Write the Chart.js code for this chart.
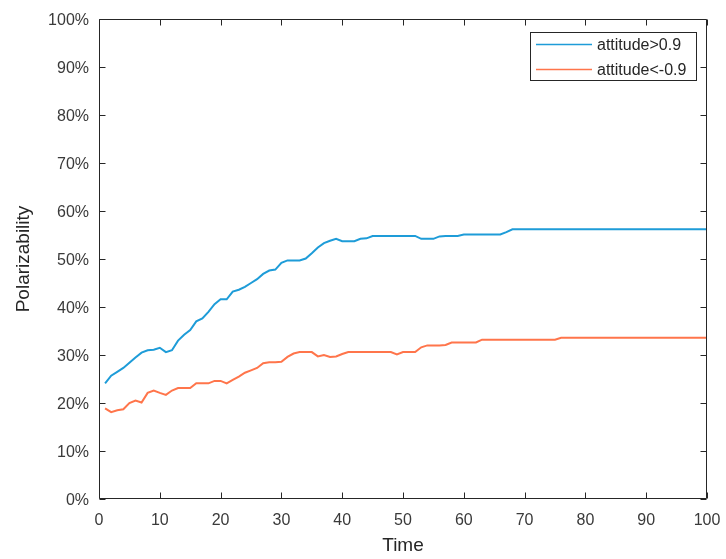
<!DOCTYPE html>
<html>
<head>
<meta charset="utf-8">
<script src="https://cdn.jsdelivr.net/npm/chart.js@4/dist/chart.umd.min.js"></script>
<style>
  html, body { margin: 0; padding: 0; background: #fff; }
  #wrap { width: 726px; height: 559px; }
</style>
</head>
<body>
<div id="wrap"><canvas id="polar" width="726" height="559"></canvas></div>
<script>
// time steps 1..100
const time = [1,2,3,4,5,6,7,8,9,10,11,12,13,14,15,16,17,18,19,20,
  21,22,23,24,25,26,27,28,29,30,31,32,33,34,35,36,37,38,39,40,
  41,42,43,44,45,46,47,48,49,50,51,52,53,54,55,56,57,58,59,60,
  61,62,63,64,65,66,67,68,69,70,71,72,73,74,75,76,77,78,79,80,
  81,82,83,84,85,86,87,88,89,90,91,92,93,94,95,96,97,98,99,100];

// polarizability (%)
const positive = [24.1,25.7,26.5,27.3,28.4,29.5,30.5,31.0,31.1,31.5,
  30.6,31.0,33.0,34.2,35.2,37.0,37.6,39.0,40.6,41.6,
  41.6,43.2,43.6,44.2,45.0,45.8,46.9,47.6,47.8,49.2,
  49.7,49.7,49.7,50.1,51.2,52.4,53.3,53.8,54.2,53.7,
  53.7,53.7,54.2,54.3,54.8,54.8,54.8,54.8,54.8,54.8,
  54.8,54.8,54.2,54.2,54.2,54.7,54.8,54.8,54.8,55.1,
  55.1,55.1,55.1,55.1,55.1,55.1,55.6,56.2,56.2,56.2,
  56.2,56.2,56.2,56.2,56.2,56.2,56.2,56.2,56.2,56.2,
  56.2,56.2,56.2,56.2,56.2,56.2,56.2,56.2,56.2,56.2,
  56.2,56.2,56.2,56.2,56.2,56.2,56.2,56.2,56.2,56.2];

const negative = [18.9,18.1,18.5,18.7,20.0,20.5,20.1,22.1,22.6,22.1,
  21.7,22.6,23.1,23.1,23.1,24.1,24.1,24.1,24.6,24.6,
  24.1,24.8,25.5,26.3,26.8,27.3,28.3,28.5,28.5,28.6,
  29.6,30.3,30.6,30.6,30.6,29.7,30.0,29.6,29.7,30.2,
  30.6,30.6,30.6,30.6,30.6,30.6,30.6,30.6,30.1,30.6,
  30.6,30.6,31.6,32.0,32.0,32.0,32.1,32.6,32.6,32.6,
  32.6,32.6,33.2,33.2,33.2,33.2,33.2,33.2,33.2,33.2,
  33.2,33.2,33.2,33.2,33.2,33.6,33.6,33.6,33.6,33.6,
  33.6,33.6,33.6,33.6,33.6,33.6,33.6,33.6,33.6,33.6,
  33.6,33.6,33.6,33.6,33.6,33.6,33.6,33.6,33.6,33.6];

const seriesNames = ['attitude>0.9', 'attitude<-0.9'];

const axisColor = '#262626';
const labelColor = '#3a3a3a';
const font = 'Liberation Sans, Arial, Helvetica, sans-serif';

// matlab style box with inward ticks + legend in the corner
const matlabBox = {
  id: 'matlabBox',
  afterDraw(chart) {
    const {ctx, chartArea: a, scales: {x, y}} = chart;
    const L = Math.round(a.left) + 0.5, R = Math.round(a.right) - 0.5;
    const T = Math.round(a.top) + 0.5, B = Math.round(a.bottom) - 0.5;
    ctx.save();
    ctx.strokeStyle = axisColor;
    ctx.lineWidth = 1;
    ctx.beginPath();
    ctx.rect(L, T, R - L, B - T);
    x.ticks.forEach(t => {
      const px = Math.round(x.getPixelForValue(t.value)) + 0.5;
      ctx.moveTo(px, B); ctx.lineTo(px, B - 6);
      ctx.moveTo(px, T); ctx.lineTo(px, T + 6);
    });
    y.ticks.forEach(t => {
      const py = Math.round(y.getPixelForValue(t.value)) + 0.5;
      ctx.moveTo(L, py); ctx.lineTo(L + 6, py);
      ctx.moveTo(R, py); ctx.lineTo(R - 6, py);
    });
    ctx.stroke();

    // legend
    const lx = 530.5, ly = 32.5, lw = 166, lh = 48;
    ctx.fillStyle = '#fff';
    ctx.fillRect(lx, ly, lw, lh);
    ctx.strokeRect(lx, ly, lw, lh);
    ctx.font = '16px ' + font;
    ctx.textBaseline = 'middle';
    chart.data.datasets.forEach((ds, i) => {
      const rowY = 44.5 + i * 25;
      ctx.strokeStyle = ds.borderColor;
      ctx.lineWidth = 1.5;
      ctx.beginPath();
      ctx.moveTo(536, rowY); ctx.lineTo(592, rowY);
      ctx.stroke();
      ctx.fillStyle = axisColor;
      ctx.fillText(ds.label, 597, rowY + 1);
    });
    ctx.restore();
  }
};

new Chart(document.getElementById('polar'), {
  type: 'line',
  data: {
    labels: time,
    datasets: [{
      label: seriesNames[0],
      data: positive,
      borderColor: 'rgb(30, 156, 216)',
      borderWidth: 2,
      pointRadius: 0,
      tension: 0
    }, {
      label: seriesNames[1],
      data: negative,
      borderColor: 'rgb(255, 117, 75)',
      borderWidth: 2,
      pointRadius: 0,
      tension: 0
    }]
  },
  options: {
    responsive: false,
    animation: false,
    devicePixelRatio: 1,
    layout: { padding: { left: 0, top: 19, right: 19, bottom: 0 } },
    plugins: { legend: { display: false }, tooltip: { enabled: false } },
    scales: {
      x: {
        type: 'linear',
        min: 0, max: 100,
        grid: { display: false, drawTicks: false },
        border: { display: false },
        ticks: { stepSize: 10, padding: 12, color: labelColor, font: { family: font, size: 16 }, maxRotation: 0 },
        title: { display: true, text: 'Time', color: axisColor, font: { family: font, size: 19 }, padding: { top: 0, bottom: 2 } },
        afterFit(s) { s.height = 60; s.paddingLeft = 0; s.paddingRight = 0; }
      },
      y: {
        min: 0, max: 100,
        grid: { display: false, drawTicks: false },
        border: { display: false },
        ticks: { stepSize: 10, padding: 10, labelOffset: 2, color: labelColor, font: { family: font, size: 16 }, callback: v => v + '%' },
        title: { display: true, text: 'Polarizability', color: axisColor, font: { family: font, size: 19 }, padding: { top: 12, bottom: 0 } },
        afterFit(s) { s.width = 99; s.paddingTop = 0; s.paddingBottom = 0; }
      }
    }
  },
  plugins: [matlabBox]
});
</script>
</body>
</html>
